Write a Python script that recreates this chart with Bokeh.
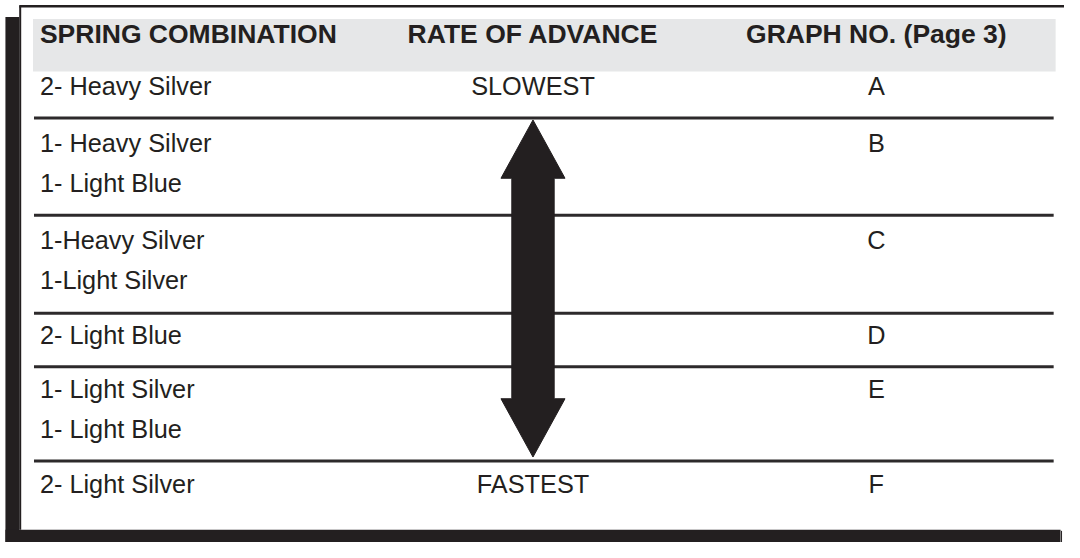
from bokeh.plotting import figure
from bokeh.models import Range1d
from bokeh.core.properties import value
from bokeh.embed import file_html
from bokeh.resources import INLINE

# ---- data (table content) ----
headers = ["SPRING COMBINATION", "RATE OF ADVANCE", "GRAPH NO. (Page 3)"]
spring_combinations = [
    ["2- Heavy Silver"],
    ["1- Heavy Silver", "1- Light Blue"],
    ["1-Heavy Silver", "1-Light Silver"],
    ["2- Light Blue"],
    ["1- Light Silver", "1- Light Blue"],
    ["2- Light Silver"],
]
rate_of_advance = ["SLOWEST", "", "", "", "", "FASTEST"]
graph_numbers = ["A", "B", "C", "D", "E", "F"]

# ---- layout (reference pixel coordinates) ----
W, H = 1064, 542
row_tops = [73, 121, 221, 322, 377, 474]      # top edge of each row
first_line_y = [88, 147, 247, 344, 400, 498]  # centre of first text line in each row
line_gap = 41
col1_x, col2_x, col3_x = 40, 540.5, 889
header_y = 34
ink = "#231f20"
FONT = value("Liberation Sans")

p = figure(width=W, height=H, x_range=Range1d(0, 1080), y_range=Range1d(558, 0),
           toolbar_location=None, output_backend="svg", min_border=0,
           x_axis_type=None, y_axis_type=None)
p.grid.visible = False
p.outline_line_color = None
p.background_fill_color = "white"
p.border_fill_color = "white"

# page frame with shadow
p.quad(left=[5], right=[19], top=[17], bottom=[558], fill_color=ink, line_color=None)
p.quad(left=[5], right=[1076], top=[545], bottom=[558], fill_color=ink, line_color=None)
p.segment(x0=[19], y0=[6], x1=[1080], y1=[6], line_color=ink, line_width=2.5)
p.segment(x0=[20], y0=[6], x1=[20], y1=[545], line_color=ink, line_width=2)
p.segment(x0=[1077], y0=[546], x1=[1077], y1=[558], line_color=ink, line_width=1)

# header band
p.quad(left=[33], right=[1071], top=[19], bottom=[73], fill_color="#e6e7e8", line_color=None)
p.text(x=[col1_x, col2_x, col3_x], y=[header_y] * 3, text=headers,
       text_align=["left", "center", "center"], text_baseline="middle",
       text_font=FONT, text_font_style="bold", text_font_size="26.5px", text_color=ink)

# row separator lines
sep = row_tops[1:]
p.segment(x0=[34] * len(sep), y0=sep, x1=[1069] * len(sep), y1=sep,
          line_color="#2d2a2b", line_width=3)

# column 1 texts
xs, ys, ts = [], [], []
for y0, lines in zip(first_line_y, spring_combinations):
    for k, t in enumerate(lines):
        xs.append(col1_x); ys.append(y0 + k * line_gap); ts.append(t)
p.text(x=xs, y=ys, text=ts, text_align="left", text_baseline="middle",
       text_font=FONT, text_font_size="25.3px", text_color=ink)

# column 2 and 3 texts
p.text(x=[col2_x] * len(rate_of_advance), y=first_line_y, text=rate_of_advance,
       text_align="center", text_baseline="middle",
       text_font=FONT, text_font_size="25.3px", text_color=ink)
p.text(x=[col3_x] * len(graph_numbers), y=first_line_y, text=graph_numbers,
       text_align="center", text_baseline="middle",
       text_font=FONT, text_font_size="25.3px", text_color=ink)

# double-headed arrow between SLOWEST and FASTEST rows
top_tip = row_tops[1] + 2
bot_tip = row_tops[-1] - 4
head_len, head_half, shaft_half = 60, 32.5, 21.5
cx = col2_x
ax = [cx, cx - head_half, cx - shaft_half, cx - shaft_half, cx - head_half, cx,
      cx + head_half, cx + shaft_half, cx + shaft_half, cx + head_half]
ay = [top_tip, top_tip + head_len, top_tip + head_len, bot_tip - head_len, bot_tip - head_len,
      bot_tip, bot_tip - head_len, bot_tip - head_len, top_tip + head_len, top_tip + head_len]
p.patch(x=ax, y=ay, fill_color=ink, line_color=ink, line_width=1)

open("out.html", "w").write(file_html(p, INLINE))
